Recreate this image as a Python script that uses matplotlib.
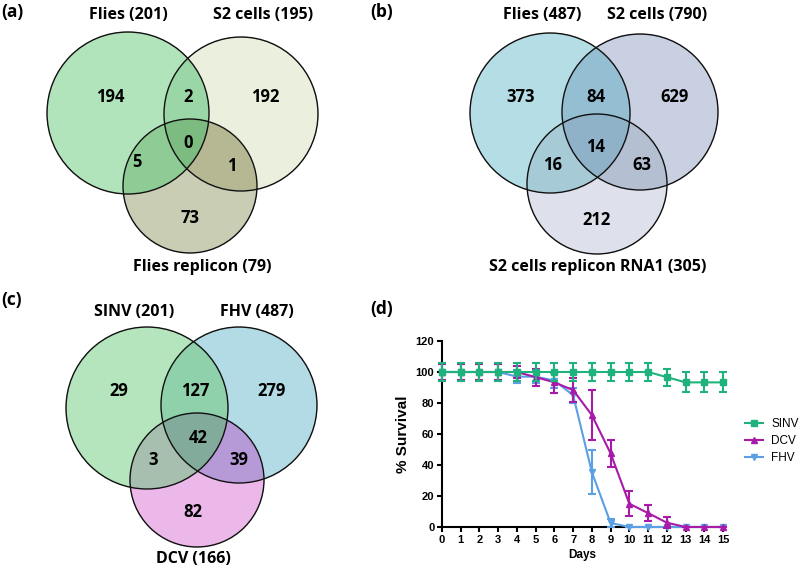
import numpy as np
import matplotlib
matplotlib.use('Agg')
from matplotlib import pyplot as plt
from matplotlib.patches import Circle
from matplotlib.lines import Line2D

# ---- venn data: region order = A only, A&B, B only, A&C, A&B&C, B&C, C only
a_labels = ['Flies (201)', 'S2 cells (195)', 'Flies replicon (79)']
a_counts = [194, 2, 192, 5, 0, 1, 73]
b_labels = ['Flies (487)', 'S2 cells (790)', 'S2 cells replicon RNA1 (305)']
b_counts = [373, 84, 629, 16, 14, 63, 212]
c_labels = ['SINV (201)', 'FHV (487)', 'DCV (166)']
c_counts = [29, 127, 279, 3, 42, 39, 82]

# ---- survival data
days = [0, 1, 2, 3, 4, 5, 6, 7, 8, 9, 10, 11, 12, 13, 14, 15]
sinv_mean = [100, 100, 100, 100, 100, 100, 100, 100, 100, 100, 100, 100, 96.7, 93.3, 93.3, 93.3]
sinv_err = [6, 6, 6, 6, 6, 6, 6, 6, 6, 6, 6, 6, 5.5, 6.5, 6.5, 6.5]
dcv_mean = [100, 100, 100, 100, 100, 96.7, 93.3, 88.3, 72.2, 47.5, 15, 9, 2.8, 0, 0, 0]
dcv_err = [5, 5, 5, 5, 4, 5.5, 7, 7.7, 16.2, 8.5, 8, 5.4, 3.5, 0, 0, 0]
fhv_mean = [100, 100, 100, 100, 97, 97, 94.5, 85, 35.4, 2.6, 0, 0, 0, 0, 0, 0]
fhv_err = [6, 6, 6, 6, 4, 4, 5, 5, 14, 2.8, 0, 0, 0, 0, 0, 0]
series_names = ['SINV', 'DCV', 'FHV']

fig = plt.figure(figsize=(8, 5.68), dpi=100)
canvas = fig.add_axes([0, 0, 1, 1])
canvas.set_xlim(0, 800)
canvas.set_ylim(568, 0)
canvas.axis('off')

venn_font = 'Open Sans'
# bitmask of each region, same order as the counts (A=1, B=2, C=4)
region_masks = [1, 3, 2, 5, 7, 6, 4]


def draw_venn(centers, radii, region_colors, labels, label_pos, counts, count_pos, box):
    x0, x1, y0, y1 = box
    xs = np.linspace(x0, x1, (x1 - x0) * 3)
    ys = np.linspace(y0, y1, (y1 - y0) * 3)
    gx, gy = np.meshgrid(xs, ys)
    code = np.zeros(gx.shape, dtype=int)
    for i, ((cx, cy), r) in enumerate(zip(centers, radii)):
        code[(gx - cx) ** 2 + (gy - cy) ** 2 <= r ** 2] += 1 << i
    img = np.zeros(gx.shape + (4,))
    for m, col in zip(region_masks, region_colors):
        img[code == m] = matplotlib.colors.to_rgba(col)
    canvas.imshow(img, extent=(x0, x1, y1, y0), origin='upper',
                  aspect='auto', interpolation='antialiased', zorder=1)
    for (cx, cy), r in zip(centers, radii):
        canvas.add_patch(Circle((cx, cy), r, fill=False, ec='#111111', lw=1.0, zorder=2))
    for txt, (tx, ty) in zip(labels, label_pos):
        canvas.text(tx, ty, txt, ha='center', va='center', fontsize=11.5,
                    fontweight='bold', family=venn_font, zorder=3)
    for n, (tx, ty) in zip(counts, count_pos):
        canvas.text(tx, ty, str(n), ha='center', va='center', fontsize=12,
                    fontweight='bold', family=venn_font, zorder=3)


# (a)
draw_venn(centers=[(128, 113), (241, 114), (190, 186)], radii=[81, 77, 67],
          region_colors=['#b3e5bd', '#9bd6a6', '#ebf0de', '#8ecb96', '#7cbc80', '#b6b994', '#c9cdb4'],
          labels=a_labels, label_pos=[(128, 15), (263, 15), (202, 267)],
          counts=a_counts,
          count_pos=[(110, 97), (188, 97), (265, 97), (137, 162), (188, 143), (232, 166), (190, 218)],
          box=(40, 330, 25, 260))
# (b)
draw_venn(centers=[(550, 113), (640, 112), (597, 184)], radii=[80, 78, 70],
          region_colors=['#b5dde6', '#94bfd2', '#c8d0e2', '#a6cad6', '#8fb2c8', '#b5bfd2', '#dee2ec'],
          labels=b_labels, label_pos=[(542, 15), (657, 15), (598, 267)],
          counts=b_counts,
          count_pos=[(521, 97), (596, 97), (675, 97), (553, 165), (596, 147), (642, 165), (597, 220)],
          box=(460, 730, 25, 260))
# (c)
draw_venn(centers=[(147, 408), (239, 405), (197, 480)], radii=[81, 78, 67],
          region_colors=['#b5e6bd', '#8fd1aa', '#b2dbe6', '#a6bfae', '#82ab9c', '#b79ad8', '#ebb8ea'],
          labels=c_labels, label_pos=[(134, 312), (257, 312), (193, 559)],
          counts=c_counts,
          count_pos=[(119, 391), (195, 391), (272, 391), (153, 460), (198, 438), (239, 460), (193, 512)],
          box=(60, 330, 320, 552))

for letter, (lx, ly) in zip(['(a)', '(b)', '(c)', '(d)'],
                            [(12, 12), (382, 12), (12, 300), (382, 309)]):
    canvas.text(lx, ly, letter, ha='center', va='center', fontsize=12.5,
                fontweight='bold', family=venn_font)

# (d) survival curves
ax = fig.add_axes([442 / 800, 1 - 527 / 568, 281 / 800, 186 / 568])
styles = [('SINV', sinv_mean, sinv_err, '#1fb27c', 's', 6),
          ('DCV', dcv_mean, dcv_err, '#a81aa8', '^', 5),
          ('FHV', fhv_mean, fhv_err, '#5c9fe4', 'v', 4)]
handles = []
for name, mean, err, col, mk, z in styles:
    ax.errorbar(days, mean, yerr=err, color=col, marker=mk, markersize=4.5,
                lw=1.5, elinewidth=1.5, capsize=2.8, capthick=1.5,
                zorder=z, clip_on=False)
    handles.append(Line2D([], [], color=col, marker=mk, markersize=4.5, lw=1.5))

ax.set_xlim(0, 15)
ax.set_ylim(0, 120)
ax.set_xticks(days)
ax.set_yticks([0, 20, 40, 60, 80, 100, 120])
for s in ['top', 'right']:
    ax.spines[s].set_visible(False)
for s in ['left', 'bottom']:
    ax.spines[s].set_linewidth(1.5)
    ax.spines[s].set_zorder(0)
ax.tick_params(width=1.5, length=3.5, labelsize=8, pad=2)
for lab in ax.get_xticklabels() + ax.get_yticklabels():
    lab.set_fontweight('bold')
    lab.set_family('Liberation Sans')
ax.set_xlabel('Days', fontsize=8.5, fontweight='bold', family='Liberation Sans', labelpad=3)
ax.set_ylabel('% Survival', fontsize=11, fontweight='bold', family='Liberation Sans', labelpad=4)
ax.legend(handles, series_names, loc='center left', bbox_to_anchor=(1.04, 0.462),
          frameon=False, prop={'family': 'Liberation Sans', 'size': 8.5},
          handlelength=1.5, handletextpad=0.75, labelspacing=0.45)

fig.savefig('out.png', dpi=100)
